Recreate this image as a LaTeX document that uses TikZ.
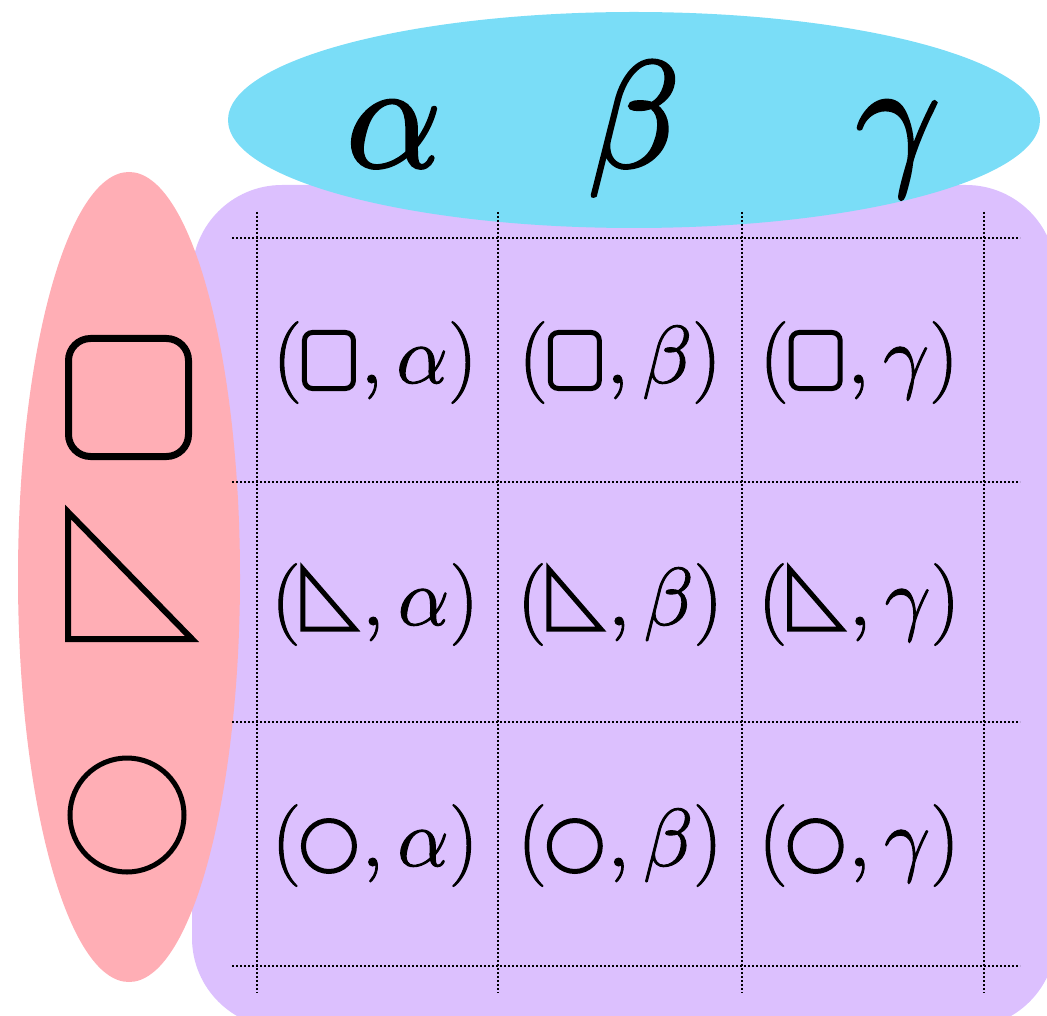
\RequirePackage{fix-cm}
\documentclass[tikz,border=0pt]{standalone}

\definecolor{setlilac}{RGB}{220,192,254}
\definecolor{setpink}{RGB}{255,174,181}
\definecolor{setsky}{RGB}{122,221,247}

% heavier glyphs: fill and stroke the letters
\newcommand{\heavy}[1]{\special{pdf:literal direct 2 Tr #1 w}}

% small shapes used inside the pair labels
\newcommand{\sqglyph}{\tikz[baseline=0pt]\draw[line width=2.5pt, rounded corners=4pt] (0,-2.75pt) rectangle (24.5pt,25.25pt);}
\newcommand{\trglyph}{\tikz[baseline=0pt]\draw[line width=2.5pt, miter limit=10] (0,28pt) -- (0,-2pt) -- (26pt,-2pt) -- cycle;}
\newcommand{\ciglyph}{\tikz[baseline=0pt]\draw[line width=2.5pt] (13pt,10pt) circle (12.75pt);}

\tikzset{
    gridline/.style={line width=0.8pt, dash pattern=on 0.8pt off 1.2pt},
    headletter/.style={anchor=base, font=\fontsize{76}{84}\selectfont},
    pairlabel/.style={anchor=base, font=\fontsize{41}{46}\selectfont},
    bigshape/.style={line width=3pt, miter limit=10}
}

\begin{document}
\begin{tikzpicture}[x=0.5pt, y=-0.5pt]
    \useasboundingbox (0,0) rectangle (1047,1015);

    \fill[setlilac, rounded corners=45pt] (192,185) rectangle (1056,1028);
    \fill[setsky] (634,120) ellipse [x radius=406, y radius=108];
    \fill[setpink] (129,577) ellipse [x radius=111, y radius=405];

    \foreach \gx in {257,498,742,984}
        \draw[gridline] (\gx,212) -- (\gx,993);
    \foreach \gy in {238,482,722,966}
        \draw[gridline] (232,\gy) -- (1020,\gy);

    \node[headletter] (alpha) at (394,167) {\heavy{1.4}$\alpha$};
    \node[headletter] (beta) at (634,167) {\heavy{1.4}$\beta$};
    \node[headletter] (gamma) at (898,167) {\heavy{1.4}$\gamma$};

    \draw[bigshape, line width=3.5pt, rounded corners=11pt] (68.5,338.5) rectangle (188.5,456.5);
    \draw[bigshape] (68,512) -- (68,639) -- (192,639) -- cycle;
    \draw[bigshape, line width=2.5pt] (127,815) circle (57);

    \foreach \sym/\gy [count=\r] in {\sqglyph/383, \trglyph/625, \ciglyph/866}
        \foreach \gr/\gx [count=\c] in {\alpha/375, \beta/620, \gamma/859}
            \node[pairlabel] (pair-\r-\c) at (\gx,\gy)
                {\heavy{0.5}$(\sym\mkern1mu,\gr)$};
\end{tikzpicture}
\end{document}
